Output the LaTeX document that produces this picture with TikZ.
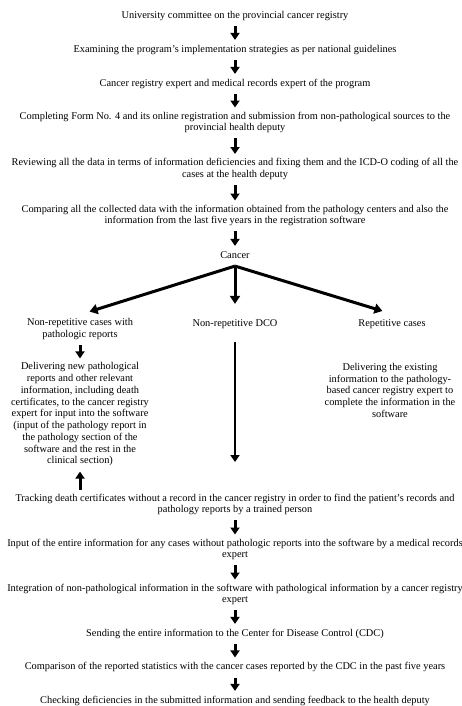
\documentclass[tikz,border=0pt]{standalone}
\usepackage{fontspec}
\setmainfont{Liberation Serif}
\usetikzlibrary{arrows.meta}
\begin{document}
\begin{tikzpicture}[x=1bp, y=-1bp, font=\fontsize{10.4}{11.8}\selectfont, line join=round,
		box/.style={align=center, inner xsep=0pt, inner ysep=4bp, execute at begin node=\strut, execute at end node=\strut},
		flow/.style={line width=3bp, -{Triangle[width=9bp,length=7bp]}},
		fork/.style={line width=3bp, -{Triangle[width=10bp,length=8bp]}, shorten >=10bp}]
	\useasboundingbox (0,0) rectangle (462,706);
	\node[box] (uni) at (235,16) {University committee on the provincial cancer registry};
	\node[box] (exa) at (235,50) {Examining the program's implementation strategies as per national guidelines};
	\node[box] (crg) at (235,84) {Cancer registry expert and medical records expert of the program};
	\node[box] (com) at (235,123) {Completing Form No. 4 and its online registration and submission from non-pathological sources to the\\provincial health deputy};
	\node[box] (rev) at (235,169.5) {Reviewing all the data in terms of information deficiencies and fixing them and the ICD-O coding of all the\\cases at the health deputy};
	\node[box] (cmp) at (235,216) {Comparing all the collected data with the information obtained from the pathology centers and also the\\information from the last five years in the registration software};
	\node[box] (can) at (235,256) {Cancer};
	% three kinds of cases
	\node[box] (npr) at (80,330) {Non-repetitive cases with\\pathologic reports};
	\node[box] (dco) at (235,324) {Non-repetitive DCO};
	\node[box] (rep) at (392,324) {Repetitive cases};
	\node[box] (dlv) at (80,415) {Delivering new pathological\\reports and other relevant\\information, including death\\certificates, to the cancer registry\\expert for input into the software\\(input of the pathology report in\\the pathology section of the\\software and the rest in the\\clinical section)};
	\node[box] (ext) at (390,392) {Delivering the existing\\information to the pathology-\\based cancer registry expert to\\complete the information in the\\software};
	\coordinate (dcoend) at (235,462);
	% after the cases
	\node[box] (trk) at (235,505) {Tracking death certificates without a record in the cancer registry in order to find the patient's records and\\pathology reports by a trained person};
	\node[box] (inp) at (235,550) {Input of the entire information for any cases without pathologic reports into the software by a medical records\\expert};
	\node[box] (itg) at (235,595) {Integration of non-pathological information in the software with pathological information by a cancer registry\\expert};
	\node[box] (snd) at (235,634) {Sending the entire information to the Center for Disease Control (CDC)};
	\node[box] (cmr) at (235,667.5) {Comparison of the reported statistics with the cancer cases reported by the CDC in the past five years};
	\node[box] (chk) at (235,701) {Checking deficiencies in the submitted information and sending feedback to the health deputy};
	
	\draw[flow] (uni)--(exa);
	\draw[flow] (exa)--(crg);
	\draw[flow] (crg)--(com);
	\draw[flow] (com)--(rev);
	\draw[flow] (rev)--(cmp);
	\draw[flow] (cmp)--(can);
	\draw[fork] (can.south)--(npr.north);
	\draw[fork] (can.south)--(dco.north);
	\draw[fork] (can.south)--(rep.north);
	\draw[flow] (npr)--(dlv);
	\draw[flow, line width=2.5bp] (dco.south)++(0,8)--(dcoend);
	\draw[flow] (trk.north -| dlv.south)--(dlv.south);
	\draw[flow] (trk)--(inp);
	\draw[flow] (inp)--(itg);
	\draw[flow] (itg)--(snd);
	\draw[flow] (snd)--(cmr);
	\draw[flow] (cmr)--(chk);
\end{tikzpicture}
\end{document}
